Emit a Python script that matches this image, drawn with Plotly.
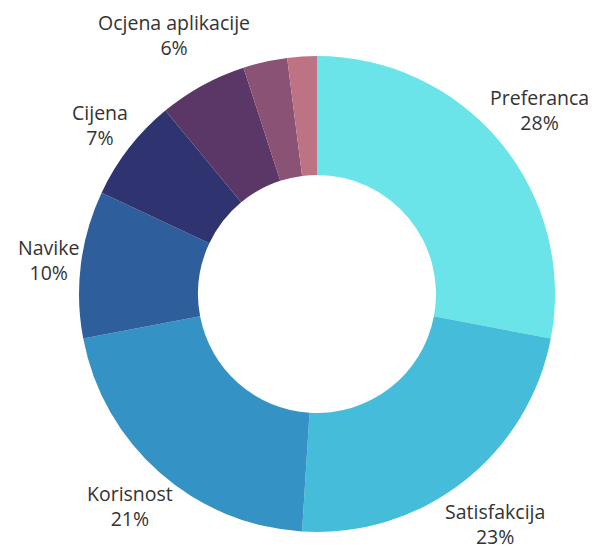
import math
import plotly.graph_objects as go

labels = ["Preferanca", "Satisfakcija", "Korisnost", "Navike", "Cijena",
          "Ocjena aplikacije", "Ostalo 1", "Ostalo 2"]
values = [28, 23, 21, 10, 7, 6, 3, 2]
shown = [True, True, True, True, True, True, False, False]
colors = ["#6AE4E8", "#45BCD9", "#3592C4", "#2E5F9C", "#2F3470",
          "#5A3767", "#8A5274", "#BD7384"]

# layout geometry (pixels)
W, H = 595, 550
ML, MR, MT, MB = 79, 40, 56, 18
PW, PH = W - ML - MR, H - MT - MB
R_OUT = min(PW, PH) / 2
CX, CY = ML + PW / 2, MT + PH / 2
FS = 19.5
GAP = 3

fig = go.Figure(go.Pie(
    labels=labels,
    values=values,
    textinfo="none",
    automargin=False,
    hole=0.5,
    sort=False,
    direction="clockwise",
    rotation=0,
    marker=dict(colors=colors, line=dict(width=0)),
    hoverinfo="label+percent",
    showlegend=False,
))

# outside labels placed along each slice's mid-angle
total = sum(values)
cum = 0
annotations = []
for lab, val, s in zip(labels, values, shown):
    theta = math.radians(360 * (cum + val / 2) / total)
    cum += val
    if not s:
        continue
    pct = f"{val}%"
    hw = 0.47 * FS * max(len(lab), len(pct)) / 2
    hh = 20
    d = R_OUT + GAP + hw * abs(math.sin(theta)) + hh * abs(math.cos(theta))
    px = CX + d * math.sin(theta)
    py = CY - d * math.cos(theta)
    annotations.append(dict(
        x=(px - ML) / PW, y=1 - (py - MT) / PH,
        xref="paper", yref="paper",
        xanchor="center", yanchor="middle",
        text=f"{lab}<br>{pct}", showarrow=False, align="center",
        borderpad=0,
        font=dict(family="Open Sans", size=FS, color="#333333"),
    ))

fig.update_layout(
    width=W, height=H,
    margin=dict(l=ML, r=MR, t=MT, b=MB, autoexpand=False),
    paper_bgcolor="white",
    plot_bgcolor="white",
    annotations=annotations,
)

fig.write_html("out.html")
